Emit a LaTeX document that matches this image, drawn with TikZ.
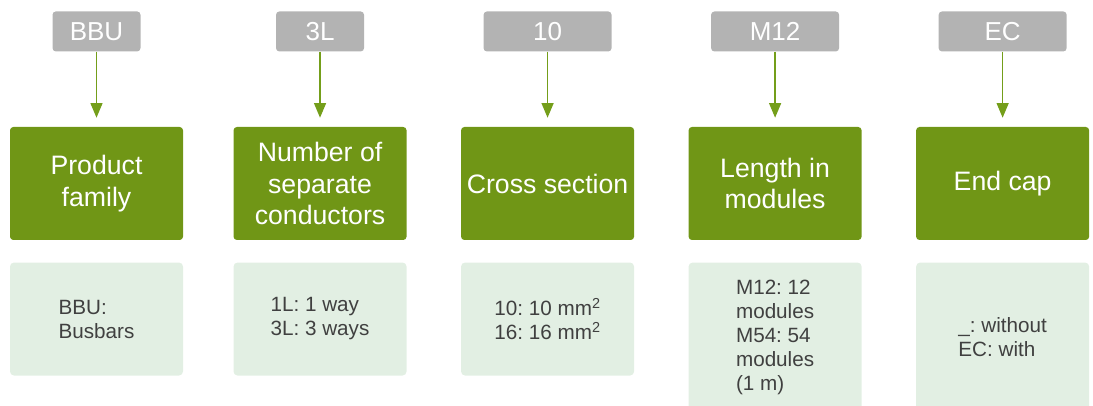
\documentclass[tikz,border=0pt]{standalone}
\usepackage{fontspec}
\setmainfont{Liberation Sans}
\usetikzlibrary{arrows.meta,positioning}
\frenchspacing

\definecolor{fieldgreen}{RGB}{112,150,22}
\definecolor{linkgreen}{RGB}{116,158,26}
\definecolor{codegray}{RGB}{179,179,179}
\definecolor{optgreen}{RGB}{226,239,227}
\definecolor{opttext}{RGB}{64,64,64}

\begin{document}
\begin{tikzpicture}[
        x=0.75pt, y=-0.75pt,
        node distance=56.25pt and 40.5pt,
        codebox/.style={rectangle, rounded corners=2.5pt, fill=codegray, text=white,
            minimum height=30pt, minimum width=#1, inner sep=0pt,
            font=\fontsize{19.5}{23.5}\selectfont},
        fieldbox/.style={rectangle, rounded corners=2.5pt, fill=fieldgreen, text=white,
            minimum height=84.75pt, minimum width=129.75pt, align=center, inner sep=2pt,
            font=\fontsize{20}{23.6}\selectfont},
        optbox/.style={rectangle, rounded corners=3pt, fill=optgreen, text=opttext,
            minimum height=#1, minimum width=129.75pt, align=left,
            font=\fontsize{15.5}{18}\selectfont},
        link/.style={-{Triangle[width=9pt,length=11pt]}, line width=1pt, draw=linkgreen,
            shorten >=6.75pt}
    ]
    \useasboundingbox (0,0) rectangle (1093,406);
    \clip (0,0) rectangle (1093,406);

    % Field nodes (green row)
    \node[fieldbox] (family) at (96.5,183.5) {Product\\family};
    \node[fieldbox, right=37.5pt of family] (conductors) {Number of\\separate\\conductors};
    \node[fieldbox, right=of conductors] (section) {Cross section};
    \node[fieldbox, right=of section] (length) {Length in\\modules};
    \node[fieldbox, right=of length] (endcap) {End cap};

    % Code nodes (grey row)
    \node[codebox=66pt, above=of family] (famcode) {BBU};
    \node[codebox=66pt, above=of conductors] (condcode) {3L};
    \node[codebox=96pt, above=of section] (seccode) {10};
    \node[codebox=96pt, above=of length] (lencode) {M12};
    \node[codebox=96pt, above=of endcap] (capcode) {EC};

    % Option nodes (pale row)
    \node[optbox=84.75pt, below=16.5pt of family] (famopt) {BBU:\\Busbars};
    \node[optbox=84.75pt, below=16.5pt of conductors] (condopt) {1L: 1 way\\3L: 3 ways};
    \node[optbox=84.75pt, below=16.5pt of section] (secopt)
        {10: 10 mm\textsuperscript{2}\\16: 16 mm\textsuperscript{2}};
    \node[optbox=112.5pt, below=16.5pt of length] (lenopt)
        {M12: 12\\modules\\M54: 54\\modules\\(1 m)};
    \node[optbox=112.5pt, below=16.5pt of endcap] (capopt) {\_: without\\EC: with};

    % Links
    \draw[link] (famcode) -- (family);
    \draw[link] (condcode) -- (conductors);
    \draw[link] (seccode) -- (section);
    \draw[link] (lencode) -- (length);
    \draw[link] (capcode) -- (endcap);
\end{tikzpicture}
\end{document}
